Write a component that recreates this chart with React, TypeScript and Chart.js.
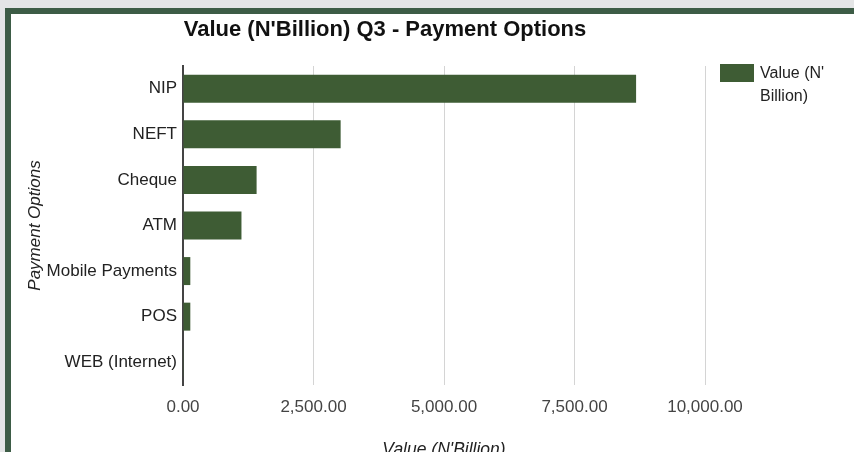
import React, { useEffect, useRef } from "react";
import { Chart, registerables } from "chart.js";

Chart.register(...registerables);

const chartTitle = "Value (N'Billion) Q3 - Payment Options";
const categories = ["NIP", "NEFT", "Cheque", "ATM", "Mobile Payments", "POS", "WEB (Internet)"];
const values = [8680, 3020, 1410, 1120, 140, 140, 15];
const seriesLabel = "Value (N'Billion)";
const legendLines = ["Value (N'", "Billion)"];
const xTickValues = [0, 2500, 5000, 7500, 10000];
const xAxisTitle = "Value (N'Billion)";
const yAxisTitle = "Payment Options";

const BAR = "#3e5c34";
const FONT = "Arial, 'Liberation Sans', sans-serif";

const textPlugin = {
  id: "customText",
  afterDraw(chart: any) {
    const ctx = chart.ctx;
    ctx.save();
    ctx.fillStyle = "#111";
    ctx.font = `bold 22px ${FONT}`;
    ctx.textAlign = "center";
    ctx.textBaseline = "middle";
    ctx.fillText(chartTitle, 385, 30);
    // legend
    ctx.fillStyle = BAR;
    ctx.fillRect(720, 64, 34, 18);
    ctx.fillStyle = "#222";
    ctx.font = `16px ${FONT}`;
    ctx.textAlign = "left";
    legendLines.forEach((t, i) => ctx.fillText(t, 760, 74 + i * 23));
    ctx.restore();
  },
};

export default function App() {
  const ref = useRef<HTMLCanvasElement>(null);
  useEffect(() => {
    const canvas = ref.current!;
    const chart = new Chart(canvas, {
      type: "bar",
      data: {
        labels: categories,
        datasets: [
          {
            label: seriesLabel,
            data: values,
            backgroundColor: BAR,
            borderWidth: 0,
            categoryPercentage: 1,
            barPercentage: 0.614,
          },
        ],
      },
      options: {
        indexAxis: "y",
        animation: false,
        responsive: false,
        devicePixelRatio: 1,
        layout: { padding: { top: 66, right: 149, left: 0, bottom: 0 } },
        plugins: {
          legend: { display: false },
          title: { display: false },
          tooltip: { enabled: false },
        },
        scales: {
          x: {
            type: "linear",
            min: 0,
            max: 10000,
            afterBuildTicks: (scale: any) => {
              scale.ticks = xTickValues.map((v) => ({ value: v }));
            },
            afterFit: (scale: any) => {
              scale.height = 95;
            },
            grid: {
              color: (c: any) => (c.tick && c.tick.value === 0 ? "rgba(0,0,0,0)" : "#d4d4d4"),
              drawTicks: false,
              lineWidth: 1,
            },
            border: { display: false },
            ticks: {
              padding: 12,
              color: "#444",
              font: { family: FONT, size: 17 },
              maxRotation: 0,
              callback: (v: any) =>
                Number(v).toLocaleString("en-US", { minimumFractionDigits: 2, maximumFractionDigits: 2 }),
            },
            title: {
              display: true,
              text: xAxisTitle,
              color: "#222",
              font: { family: FONT, size: 17.5, style: "italic" },
              padding: { top: 0, bottom: 19 },
            },
          },
          y: {
            type: "category",
            afterFit: (scale: any) => {
              scale.width = 183;
            },
            grid: { display: false, drawTicks: false },
            border: { display: true, color: "#444", width: 2 },
            ticks: {
              padding: 6,
              color: "#222",
              font: { family: FONT, size: 17 },
            },
            title: {
              display: true,
              text: yAxisTitle,
              color: "#222",
              font: { family: FONT, size: 17, style: "italic" },
              padding: { top: 25, bottom: 0 },
            },
          },
        },
      },
      plugins: [textPlugin],
    });
    return () => chart.destroy();
  }, []);

  return (
    <div
      style={{
        position: "fixed",
        left: 0,
        top: 0,
        width: 854,
        height: 452,
        overflow: "hidden",
        background: "#e4e5e6",
      }}
    >
      <div
        style={{
          position: "absolute",
          left: 5,
          top: 8,
          width: 849,
          height: 444,
          boxSizing: "border-box",
          borderTop: "6px solid #3d5c46",
          borderLeft: "6px solid #3d5c46",
          background: "#fff",
        }}
      />
      <canvas
        ref={ref}
        width={854}
        height={480}
        style={{ position: "absolute", left: 0, top: 0, width: 854, height: 480 }}
      />
    </div>
  );
}
